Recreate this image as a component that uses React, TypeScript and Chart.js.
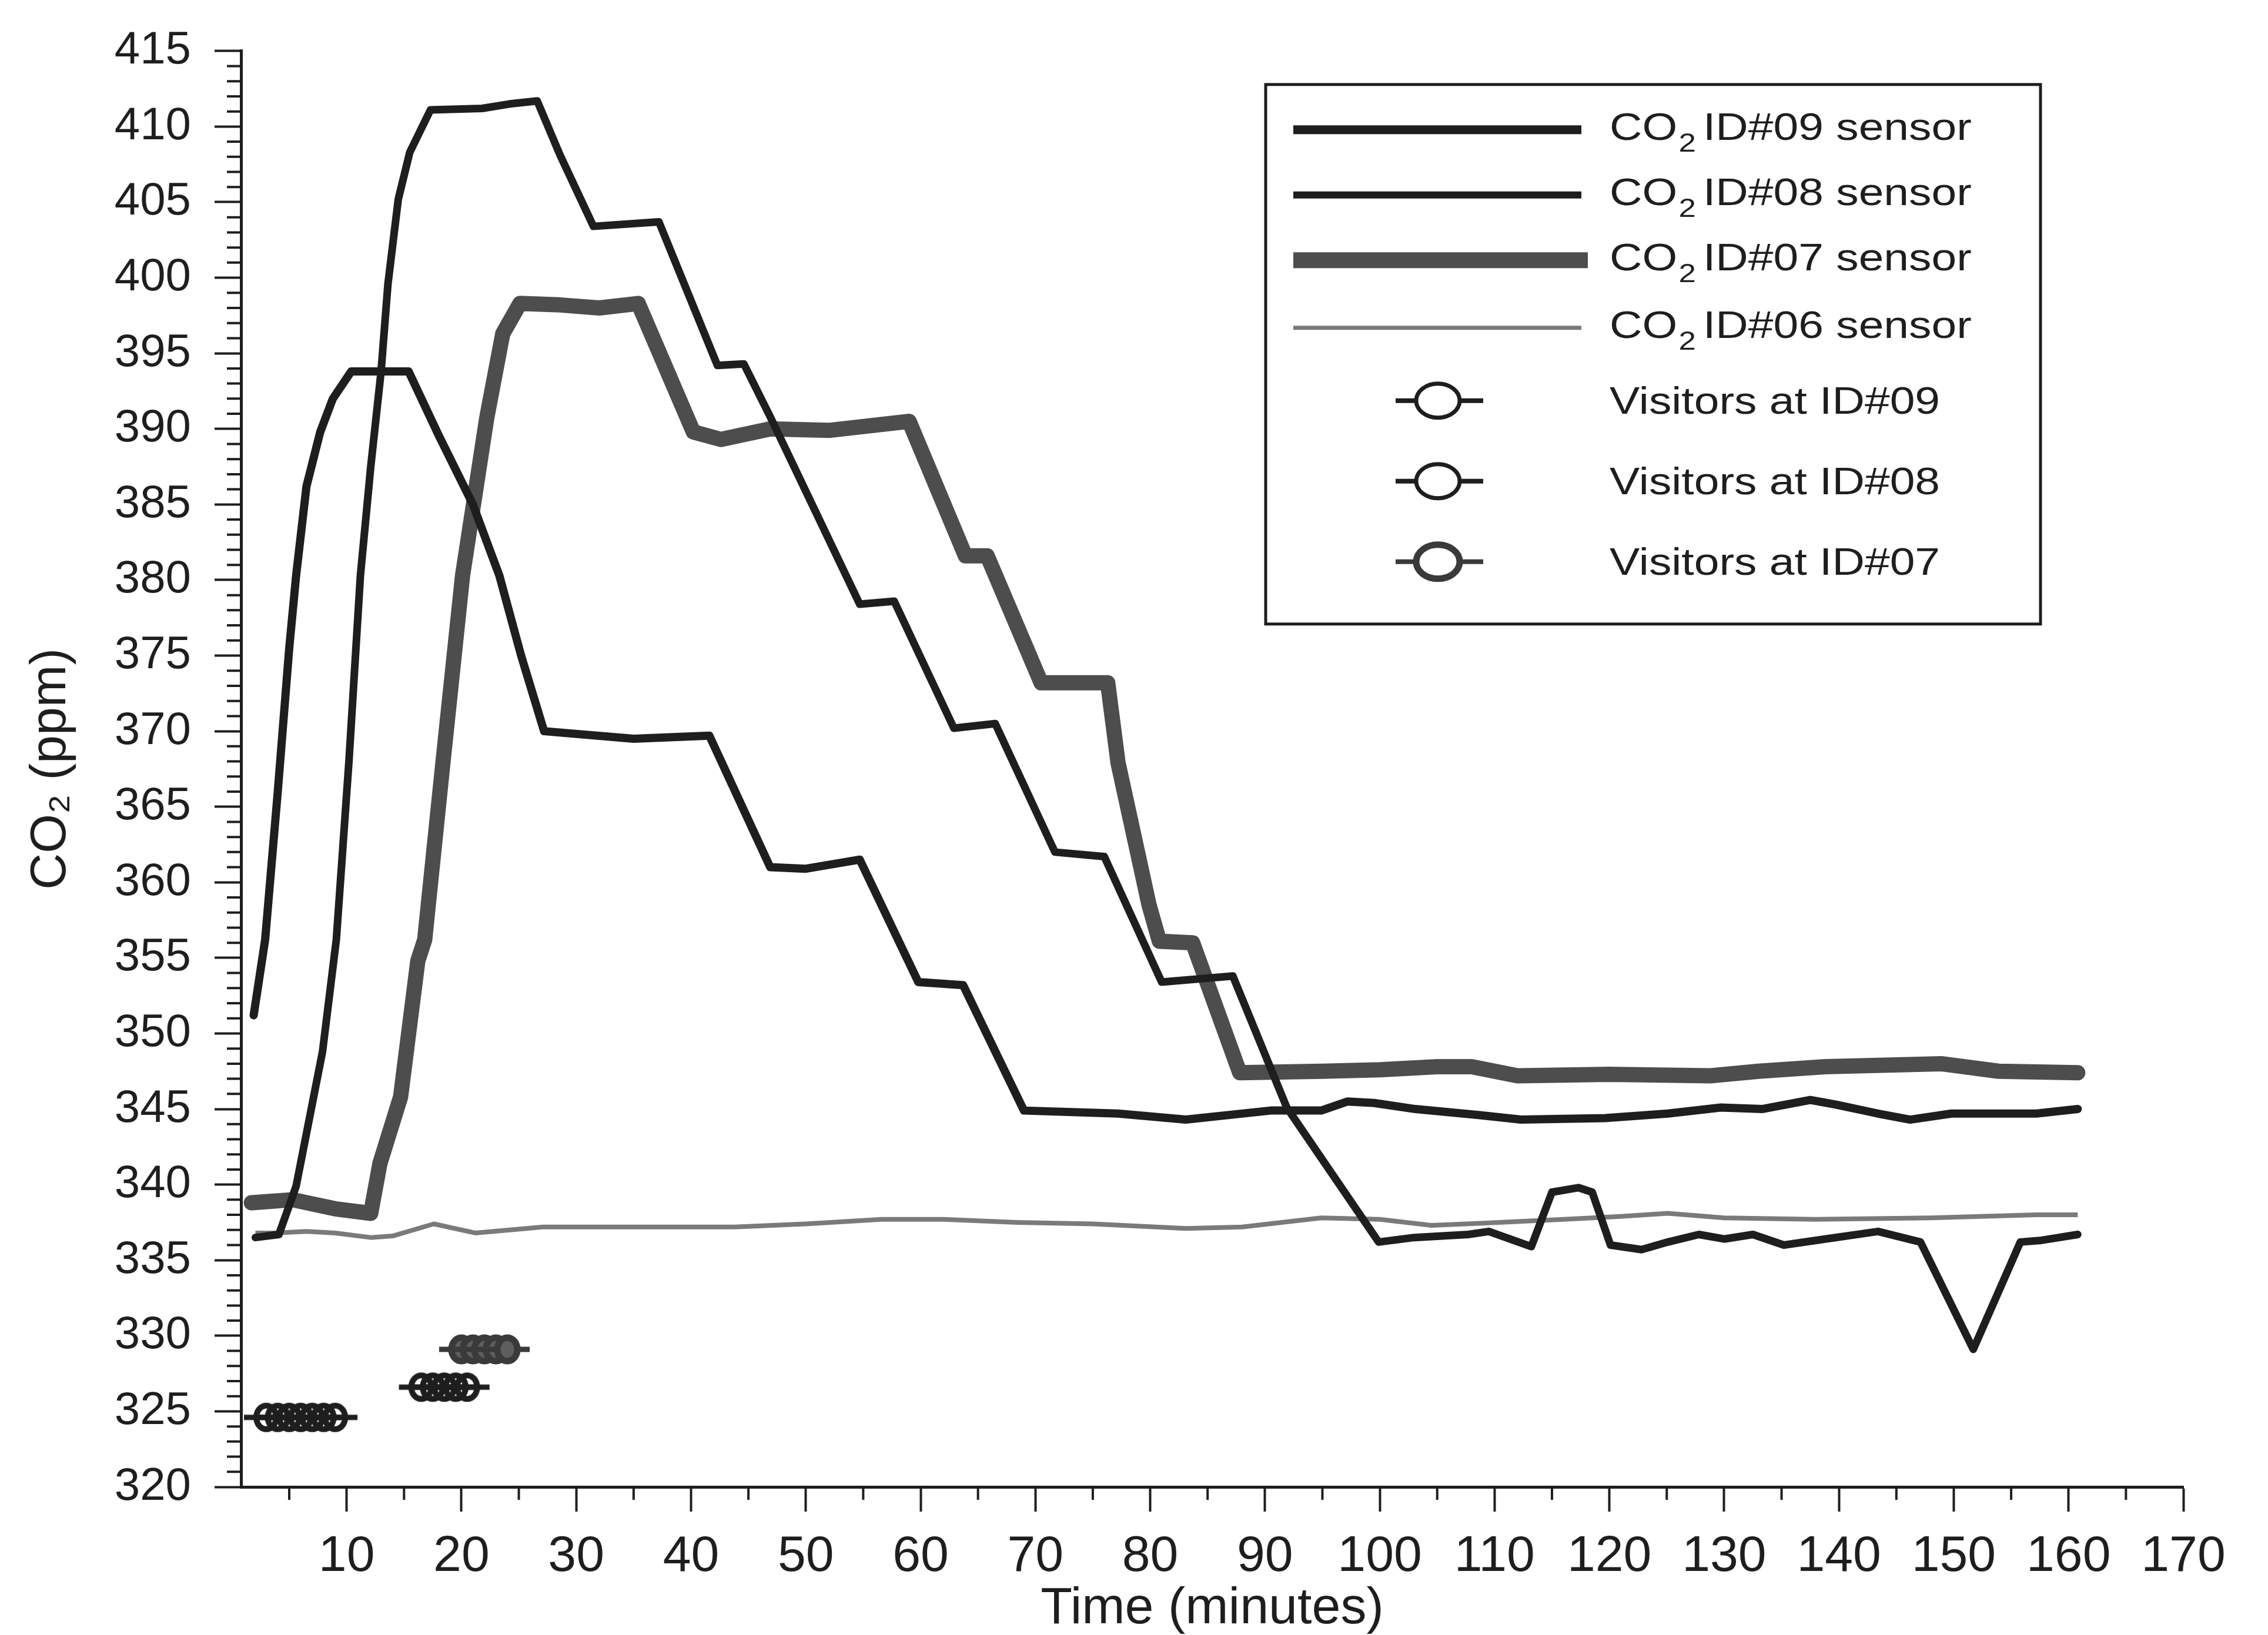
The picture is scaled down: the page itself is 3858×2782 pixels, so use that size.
import React, { useEffect, useRef } from "react";
import { Chart, registerables } from "chart.js";

Chart.register(...registerables);

// ---------------- data ----------------
const id09Time = [1.9, 2.9, 4, 5, 5.6, 6.5, 7.7, 8.8, 10.4, 15.4, 18, 21, 23.3, 25.2, 27.2, 35, 41.6, 46.9, 50, 54.7, 59.8, 63.7, 69.0, 77.2, 83.1, 90.5, 94.9, 97.2, 99.5, 103.1, 108.6, 112.3, 119.6, 125.1, 129.7, 133.3, 137.5, 139.7, 143.4, 146.2, 149.8, 157.2, 160.8];
const id09Co2 = [351.2, 356.2, 366, 375.5, 380.3, 386.2, 389.8, 392, 393.8, 393.8, 389.6, 385, 380.3, 375, 370, 369.5, 369.7, 361.0, 360.9, 361.5, 353.4, 353.2, 344.9, 344.7, 344.3, 344.9, 344.9, 345.5, 345.4, 345.0, 344.6, 344.3, 344.4, 344.7, 345.1, 345.0, 345.6, 345.3, 344.7, 344.3, 344.7, 344.7, 345.0];

const id08Time = [2.05, 4.1, 5.6, 7.9, 9.1, 10.2, 11.2, 12.1, 13.0, 13.6, 14.5, 15.5, 17.3, 21.8, 24.2, 26.6, 28.6, 31.5, 37.2, 42.3, 44.6, 46.9, 54.7, 57.7, 62.9, 66.5, 71.7, 76.0, 81.0, 87.2, 91.9, 99.9, 103, 107.7, 109.5, 113.2, 115.0, 117.3, 118.5, 120.1, 122.8, 125.1, 127.8, 130, 132.5, 135.2, 138.8, 143.4, 147.1, 151.7, 155.8, 157.5, 160.8];
const id08Co2 = [336.5, 336.7, 339.9, 348.8, 356.2, 368, 380.3, 387.5, 393.8, 399.6, 405.2, 408.3, 411.1, 411.2, 411.5, 411.7, 408.1, 403.4, 403.7, 394.2, 394.3, 390.8, 378.4, 378.6, 370.2, 370.5, 362.0, 361.7, 353.4, 353.8, 345.1, 336.2, 336.5, 336.7, 336.9, 335.9, 339.5, 339.8, 339.5, 336.0, 335.7, 336.2, 336.7, 336.4, 336.7, 336.0, 336.4, 336.9, 336.2, 329.1, 336.2, 336.3, 336.7];

const id07Time = [1.7, 5.3, 9, 12.1, 12.9, 14.7, 16.2, 16.8, 18.4, 20.1, 22.2, 23.6, 25.1, 28.6, 32, 35.4, 40.2, 42.6, 46.9, 52, 59.0, 63.9, 65.8, 70.5, 76.3, 77.2, 79.9, 80.8, 83.7, 87.8, 95, 100, 105, 108, 112, 120, 128.8, 133, 138.8, 148.9, 153.9, 160.8];
const id07Co2 = [338.8, 339.0, 338.4, 338.1, 341.4, 345.8, 354.8, 356.2, 368, 380.3, 390.7, 396.3, 398.3, 398.2, 398.0, 398.3, 389.8, 389.3, 390.0, 389.9, 390.5, 381.6, 381.6, 373.2, 373.2, 367.9, 358.5, 356.1, 356.0, 347.4, 347.5, 347.6, 347.8, 347.8, 347.2, 347.3, 347.2, 347.5, 347.8, 348.0, 347.5, 347.4];

const id06Time = [2.05, 3.8, 6.5, 9, 12.1, 14, 17.6, 21.2, 27.1, 35, 43.8, 50, 56.6, 62, 68.4, 75, 83.1, 88, 94.9, 100, 104.5, 109, 116, 121, 125.1, 130, 137.9, 148, 157.2, 160.8];
const id06Co2 = [336.8, 336.8, 336.9, 336.8, 336.5, 336.6, 337.4, 336.8, 337.2, 337.2, 337.2, 337.4, 337.7, 337.7, 337.5, 337.4, 337.1, 337.2, 337.8, 337.7, 337.3, 337.45, 337.7, 337.9, 338.1, 337.8, 337.7, 337.8, 338.0, 338.0];

const visitors09Time = [3, 4, 5, 6, 7, 8, 9];
const visitors09Level = [324.6, 324.6, 324.6, 324.6, 324.6, 324.6, 324.6];
const visitors08Time = [16.5, 17.5, 18.5, 19.5, 20.5];
const visitors08Level = [326.6, 326.6, 326.6, 326.6, 326.6];
const visitors07Time = [20, 21, 22, 23, 24];
const visitors07Level = [329.1, 329.1, 329.1, 329.1, 329.1];

const xMin = 0.8;
const xMax = 170;
const yMin = 320;
const yMax = 415;
const xMajorStep = 10;
const yMajorStep = 5;
const xMinorTicks = [5, 15, 25, 35, 45, 55, 65, 75, 85, 95, 105, 115, 125, 135, 145, 155, 165];
const yMinorStep = 1;

const sensorLabels = ["ID#09 sensor", "ID#08 sensor", "ID#07 sensor", "ID#06 sensor"];
const visitorLabels = ["Visitors at ID#09", "Visitors at ID#08", "Visitors at ID#07"];

const FONT = "'Liberation Sans', Arial, Helvetica, sans-serif";
const INK = "#1e1e1e";
const GRAY_THICK = "#4d4d4d";
const GRAY_THIN = "#7a7a7a";

function zip(xs: number[], ys: number[]) {
  const n = Math.min(xs.length, ys.length);
  const out: { x: number; y: number }[] = [];
  for (let i = 0; i < n; i++) out.push({ x: xs[i], y: ys[i] });
  return out;
}

function makeVisitorMarker(filled: boolean) {
  const c = document.createElement("canvas");
  c.width = 92;
  c.height = 64;
  const g = c.getContext("2d")!;
  const cx = 46;
  const cy = 32;
  g.strokeStyle = filled ? "#3a3a3a" : INK;
  g.lineWidth = 9;
  g.beginPath();
  g.moveTo(8, cy);
  g.lineTo(84, cy);
  g.stroke();
  g.beginPath();
  g.ellipse(cx, cy, 17, 20, 0, 0, Math.PI * 2);
  if (filled) {
    g.fillStyle = "#5e5e5e";
    g.fill();
    g.lineWidth = 11;
  } else {
    g.lineWidth = 10;
  }
  g.stroke();
  return c;
}

const minorTicksPlugin = {
  id: "minorTicks",
  afterDraw(chart: any) {
    const { ctx, chartArea } = chart;
    const xs = chart.scales.x;
    const ys = chart.scales.y;
    ctx.save();
    ctx.strokeStyle = INK;
    ctx.lineWidth = 4;
    ctx.beginPath();
    for (let v = yMin; v <= yMax; v += yMinorStep) {
      if (v % yMajorStep === 0) continue;
      const py = ys.getPixelForValue(v);
      ctx.moveTo(chartArea.left - 24, py);
      ctx.lineTo(chartArea.left, py);
    }
    for (const v of xMinorTicks) {
      const px = xs.getPixelForValue(v);
      ctx.moveTo(px, chartArea.bottom);
      ctx.lineTo(px, chartArea.bottom + 22);
    }
    ctx.stroke();
    ctx.restore();
  },
};

function drawCO2Label(ctx: CanvasRenderingContext2D, x: number, baseline: number, rest: string) {
  ctx.save();
  ctx.translate(x, baseline);
  ctx.scale(1.2, 1);
  ctx.fillStyle = INK;
  ctx.textAlign = "left";
  ctx.textBaseline = "alphabetic";
  ctx.font = `64px ${FONT}`;
  ctx.fillText("CO", 0, 0);
  let w = ctx.measureText("CO").width + 2;
  ctx.font = `44px ${FONT}`;
  ctx.fillText("2", w, 20);
  w += ctx.measureText("2").width + 10;
  ctx.font = `64px ${FONT}`;
  ctx.fillText(rest, w, 0);
  ctx.restore();
}

function drawPlainLabel(ctx: CanvasRenderingContext2D, x: number, baseline: number, text: string) {
  ctx.save();
  ctx.translate(x, baseline);
  ctx.scale(1.2, 1);
  ctx.fillStyle = INK;
  ctx.textAlign = "left";
  ctx.textBaseline = "alphabetic";
  ctx.font = `64px ${FONT}`;
  ctx.fillText(text, 0, 0);
  ctx.restore();
}

const boxLegendPlugin = {
  id: "boxLegend",
  afterDraw(chart: any) {
    const { ctx, chartArea } = chart;
    const bx = chartArea.right - 1561;
    const by = chartArea.top + 57;
    const bw = 1318;
    const bh = 918;
    ctx.save();
    ctx.fillStyle = "#ffffff";
    ctx.fillRect(bx, by, bw, bh);
    ctx.strokeStyle = INK;
    ctx.lineWidth = 5;
    ctx.strokeRect(bx, by, bw, bh);

    const textX = bx + 585;
    const lineRows = [
      { dy: 77, width: 15, color: INK, end: 537 },
      { dy: 188, width: 12, color: INK, end: 537 },
      { dy: 299, width: 27, color: GRAY_THICK, end: 548 },
      { dy: 414, width: 7, color: GRAY_THIN, end: 537 },
    ];
    lineRows.forEach((r, i) => {
      ctx.strokeStyle = r.color;
      ctx.lineWidth = r.width;
      ctx.lineCap = "butt";
      ctx.beginPath();
      ctx.moveTo(bx + 47, by + r.dy);
      ctx.lineTo(bx + r.end, by + r.dy);
      ctx.stroke();
      drawCO2Label(ctx, textX, by + r.dy + 17, sensorLabels[i]);
    });

    const markerRows = [
      { dy: 538, filled: false },
      { dy: 675, filled: false },
      { dy: 812, filled: true },
    ];
    markerRows.forEach((r, i) => {
      const cx = bx + 293;
      const cy = by + r.dy;
      ctx.strokeStyle = r.filled ? "#3a3a3a" : INK;
      ctx.lineWidth = 8;
      ctx.beginPath();
      ctx.moveTo(bx + 221, cy);
      ctx.lineTo(cx - 36, cy);
      ctx.moveTo(cx + 36, cy);
      ctx.lineTo(bx + 370, cy);
      ctx.stroke();
      ctx.lineWidth = r.filled ? 11 : 7;
      ctx.beginPath();
      ctx.ellipse(cx, cy, 37, 29, 0, 0, Math.PI * 2);
      ctx.stroke();
      drawPlainLabel(ctx, textX, cy + 22, visitorLabels[i]);
    });
    ctx.restore();
  },
};

export default function App() {
  const canvasRef = useRef<HTMLCanvasElement | null>(null);

  useEffect(() => {
    document.body.style.margin = "0";
    const canvas = canvasRef.current;
    if (!canvas) return;

    const openMarker = makeVisitorMarker(false);
    const filledMarker = makeVisitorMarker(true);

    const chart = new Chart(canvas, {
      type: "line",
      data: {
        datasets: [
          {
            label: "CO2 ID#09 sensor",
            data: zip(id09Time, id09Co2),
            borderColor: INK,
            borderWidth: 14,
            pointRadius: 0,
            borderJoinStyle: "round",
            borderCapStyle: "round",
            tension: 0,
          },
          {
            label: "CO2 ID#08 sensor",
            data: zip(id08Time, id08Co2),
            borderColor: INK,
            borderWidth: 13,
            pointRadius: 0,
            borderJoinStyle: "round",
            borderCapStyle: "round",
            tension: 0,
          },
          {
            label: "CO2 ID#07 sensor",
            data: zip(id07Time, id07Co2),
            borderColor: GRAY_THICK,
            borderWidth: 26,
            pointRadius: 0,
            borderJoinStyle: "round",
            borderCapStyle: "round",
            tension: 0,
          },
          {
            label: "CO2 ID#06 sensor",
            data: zip(id06Time, id06Co2),
            borderColor: GRAY_THIN,
            borderWidth: 8,
            pointRadius: 0,
            borderJoinStyle: "round",
            tension: 0,
          },
          {
            label: "Visitors at ID#09",
            data: zip(visitors09Time, visitors09Level),
            showLine: false,
            pointStyle: openMarker as any,
            pointRadius: 20,
            borderColor: INK,
          },
          {
            label: "Visitors at ID#08",
            data: zip(visitors08Time, visitors08Level),
            showLine: false,
            pointStyle: openMarker as any,
            pointRadius: 20,
            borderColor: INK,
          },
          {
            label: "Visitors at ID#07",
            data: zip(visitors07Time, visitors07Level),
            showLine: false,
            pointStyle: filledMarker as any,
            pointRadius: 20,
            borderColor: "#3a3a3a",
          },
        ] as any,
      },
      options: {
        animation: false,
        responsive: false,
        maintainAspectRatio: false,
        devicePixelRatio: 1,
        parsing: false as any,
        layout: { padding: { top: 86, right: 144, bottom: 0, left: 0 } },
        plugins: {
          legend: { display: false },
          tooltip: { enabled: false },
          title: { display: false },
        },
        scales: {
          x: {
            type: "linear",
            min: xMin,
            max: xMax,
            afterFit: (scale: any) => {
              scale.height = 252;
            },
            ticks: {
              stepSize: xMajorStep,
              includeBounds: false,
              autoSkip: false,
              maxRotation: 0,
              padding: 26,
              color: INK,
              font: { family: FONT, size: 86 },
            },
            grid: {
              display: true,
              drawOnChartArea: false,
              drawTicks: true,
              tickLength: 42,
              tickWidth: 4,
              tickColor: INK,
            },
            border: { display: true, color: INK, width: 5 },
            title: {
              display: true,
              text: "Time (minutes)",
              color: INK,
              font: { family: FONT, size: 88, lineHeight: 1 },
              padding: { top: 0, bottom: 0 },
            },
          },
          y: {
            type: "linear",
            min: yMin,
            max: yMax,
            afterFit: (scale: any) => {
              scale.width = 410;
            },
            ticks: {
              stepSize: yMajorStep,
              padding: 40,
              color: INK,
              font: { family: FONT, size: 78 },
            },
            grid: {
              display: true,
              drawOnChartArea: false,
              drawTicks: true,
              tickLength: 45,
              tickWidth: 4,
              tickColor: INK,
            },
            border: { display: true, color: INK, width: 5 },
            title: {
              display: true,
              text: "CO₂ (ppm)",
              color: INK,
              font: { family: FONT, size: 86, lineHeight: 1 },
              padding: { top: 44, bottom: 0 },
            },
          },
        },
      },
      plugins: [minorTicksPlugin, boxLegendPlugin],
    });

    return () => {
      chart.destroy();
    };
  }, []);

  return (
    <div style={{ width: 3858, height: 2782, background: "#ffffff", overflow: "hidden" }}>
      <canvas
        ref={canvasRef}
        width={3858}
        height={2782}
        style={{ display: "block", width: 3858, height: 2782 }}
      />
    </div>
  );
}
